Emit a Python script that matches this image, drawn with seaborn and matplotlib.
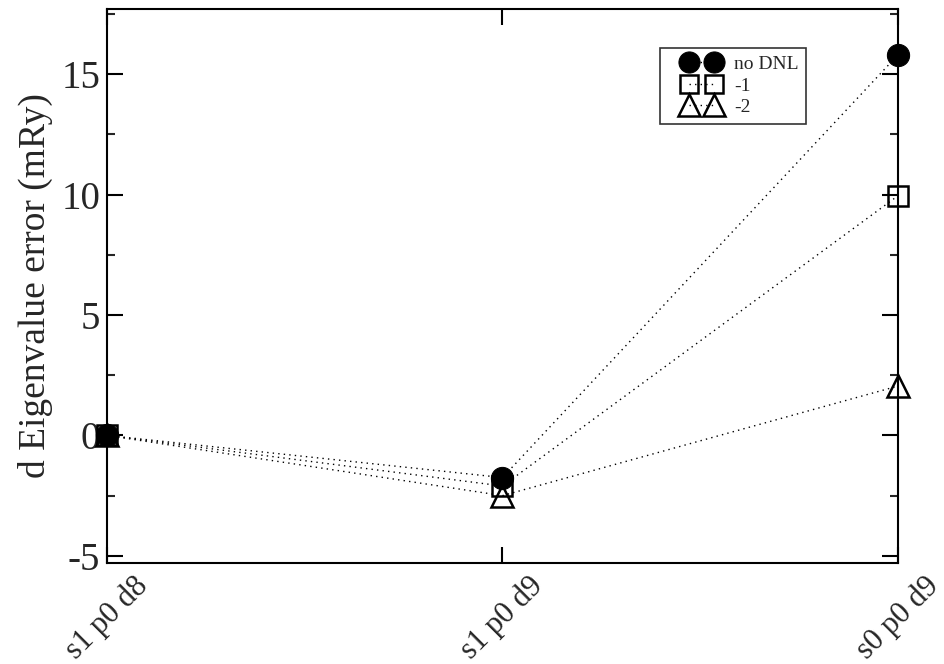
import matplotlib
matplotlib.use("Agg")
import matplotlib.pyplot as plt
import seaborn as sns
from matplotlib.lines import Line2D
from matplotlib.legend_handler import HandlerLine2D
from matplotlib.ticker import MultipleLocator

sns.set_theme(style="ticks")
plt.rcParams['font.family'] = ['Liberation Serif', 'DejaVu Serif']
plt.rcParams['axes.unicode_minus'] = False

# data
configs = ['s1 p0 d8', 's1 p0 d9', 's0 p0 d9']
no_dnl = [0.0, -1.75, 15.8]
dnl_m1 = [0.0, -2.1, 9.95]
dnl_m2 = [0.0, -2.5, 2.05]
series_names = ['no DNL', '-1', '-2']

fig = plt.figure(figsize=(9.44, 6.64), dpi=100)
ax = fig.add_axes([0.1133, 0.152, 0.838, 0.8344])

styles = [
    dict(marker='o', markersize=16, markerfacecolor='black', markeredgecolor='black'),
    dict(marker='s', markersize=14, markerfacecolor='none', markeredgecolor='black', markeredgewidth=1.8),
    dict(marker='^', markersize=16, markerfacecolor='none', markeredgecolor='black', markeredgewidth=1.8),
]

for name, vals, st in zip(series_names, [no_dnl, dnl_m1, dnl_m2], styles):
    sns.lineplot(x=configs, y=vals, ax=ax, color='black', linestyle=(0, (1, 3)),
                 linewidth=1.0, label=name, sort=False, clip_on=False, **st)

ax.set_xlim(0, 2)
ax.set_ylim(-5.3, 17.7)
ax.yaxis.set_major_locator(MultipleLocator(5))
ax.yaxis.set_minor_locator(MultipleLocator(2.5))
ax.tick_params(axis='both', which='major', direction='in', length=11.5, width=1.5,
               top=True, right=True, color='black')
ax.tick_params(axis='y', which='minor', direction='in', length=6, width=1.5,
               left=True, right=True)
ax.tick_params(axis='y', labelsize=28, pad=5)
ax.tick_params(axis='x', labelsize=22, pad=6)
for lbl in ax.get_xticklabels():
    lbl.set_rotation(45)
    lbl.set_ha('center')
for sp in ax.spines.values():
    sp.set_linewidth(1.5)
    sp.set_color('black')

ax.set_xlabel('')
ax.set_ylabel('d Eigenvalue error (mRy)', fontsize=27, labelpad=6)

leg = ax.legend(loc='upper left', bbox_to_anchor=(0.699, 0.930), borderaxespad=0,
                fontsize=14, frameon=True, fancybox=False, edgecolor='black',
                handlelength=3.5, handletextpad=-0.1, borderpad=0.4,
                labelspacing=0.2, markerscale=0.95,
                handler_map={Line2D: HandlerLine2D(numpoints=2, marker_pad=1.1)})
leg.get_frame().set_linewidth(1.2)

fig.savefig('out.png', dpi=100)
